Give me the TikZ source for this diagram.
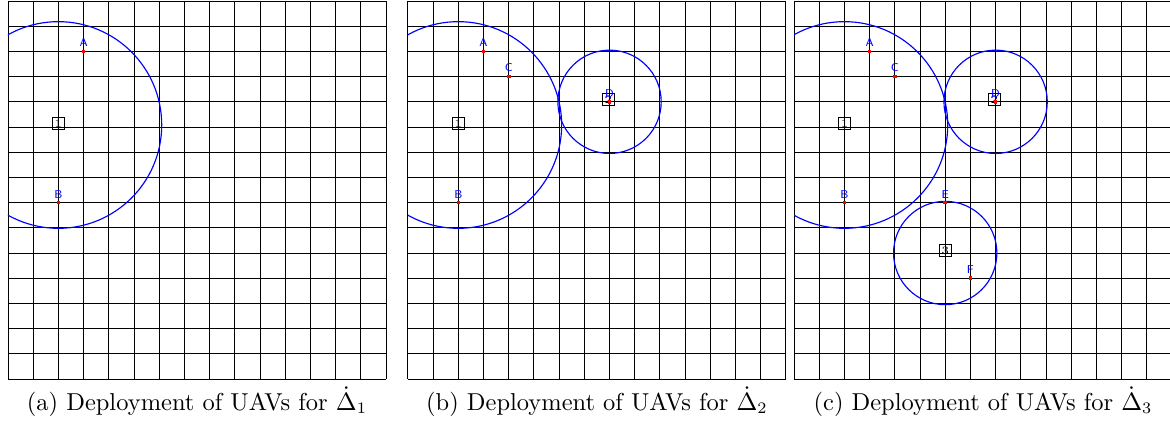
\documentclass[tikz,border=0pt]{standalone}
\usepackage{amsmath}
\begin{document}
\begin{tikzpicture}[x=0.3875cm, y=-0.3875cm,
  gridline/.style={line width=0.4pt, black},
  cover/.style={line width=0.5pt, blue},
  uav/.style={draw, line width=0.45pt, font=\tiny, inner sep=0.8pt, minimum size=5.4pt},
  tag/.style={font=\tiny\sffamily, text=blue, inner sep=0.8pt},
  target/.style={rectangle, fill=red, inner sep=0pt, minimum size=1.6pt, label={[tag]above:#1}},
  caption/.style={font=\fontsize{10.7}{13}\selectfont}]
  \useasboundingbox (-0.317,-0.04) rectangle (46.11,16.71);

  % Panel (a)
  \begin{scope}
    \foreach \i in {0,...,15} {
      \draw[gridline] (\i,0) -- (\i,15);
      \draw[gridline] (0,\i) -- (15,\i);
    }
    \begin{scope}
      \clip (0,0) rectangle (15,15);
      \draw[cover] (2,4.92) circle (4.1);
    \end{scope}
    \node[uav] (a1) at (2,4.86) {1};
    \node[target=A] (aA) at (3,2) {};
    \node[target=B] (aB) at (2,8) {};
    \node[caption] (capa) at (7.5,15.9) {(a) Deployment of UAVs for $\dot{\Delta}_1$};
  \end{scope}

  % Panel (b)
  \begin{scope}[shift={(15.87,0)}]
    \foreach \i in {0,...,15} {
      \draw[gridline] (\i,0) -- (\i,15);
      \draw[gridline] (0,\i) -- (15,\i);
    }
    \begin{scope}
      \clip (0,0) rectangle (15,15);
      \draw[cover] (2,4.92) circle (4.1);
      \draw[cover] (8,4) circle (2.05);
    \end{scope}
    \node[uav] (b1) at (2,4.86) {1};
    \node[uav] (b2) at (7.95,3.9) {2};
    \node[target=A] (bA) at (3,2) {};
    \node[target=C] (bC) at (4,3) {};
    \node[target=B] (bB) at (2,8) {};
    \node[target=D] (bD) at (8,4) {};
    \node[caption] (capb) at (7.5,15.9) {(b) Deployment of UAVs for $\dot{\Delta}_2$};
  \end{scope}

  % Panel (c)
  \begin{scope}[shift={(31.19,0)}]
    \foreach \i in {0,...,15} {
      \draw[gridline] (\i,0) -- (\i,15);
      \draw[gridline] (0,\i) -- (15,\i);
    }
    \begin{scope}
      \clip (0,0) rectangle (15,15);
      \draw[cover] (2,4.92) circle (4.1);
      \draw[cover] (8,4) circle (2.05);
      \draw[cover] (6,10) circle (2.05);
    \end{scope}
    \node[uav] (c1) at (2,4.86) {1};
    \node[uav] (c2) at (7.95,3.9) {2};
    \node[uav] (c3) at (6,9.9) {3};
    \node[target=A] (cA) at (3,2) {};
    \node[target=C] (cC) at (4,3) {};
    \node[target=B] (cB) at (2,8) {};
    \node[target=D] (cD) at (8,4) {};
    \node[target=E] (cE) at (6,8) {};
    \node[target=F] (cF) at (7,11) {};
    \node[caption] (capc) at (7.5,15.9) {(c) Deployment of UAVs for $\dot{\Delta}_3$};
  \end{scope}
\end{tikzpicture}
\end{document}
